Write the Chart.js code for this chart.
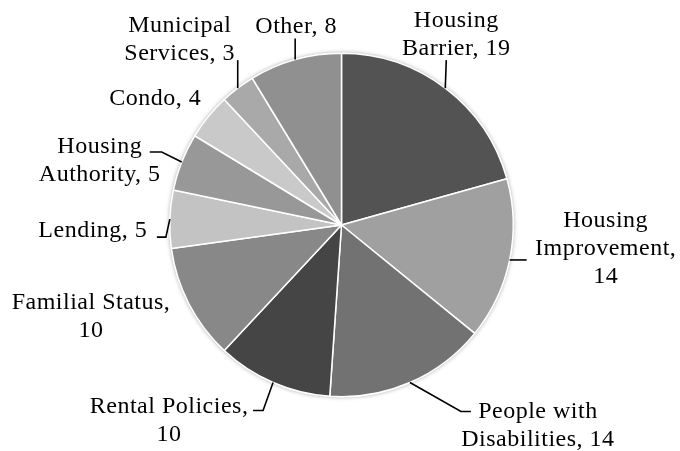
<!DOCTYPE html>
<html>
<head>
<meta charset="utf-8">
<script src="https://cdn.jsdelivr.net/npm/chart.js@4/dist/chart.umd.min.js"></script>
<style>
  html, body { margin: 0; padding: 0; background: #fff; }
  #wrap { width: 680px; height: 451px; position: relative; }
</style>
</head>
<body>
<div id="wrap"><canvas id="pieChart"></canvas></div>
<script>
'use strict';

// Kategorien und Werte (im Uhrzeigersinn ab 12 Uhr)
const categories = [
  ['Housing', 'Barrier, 19'],
  ['Housing', 'Improvement,', '14'],
  ['People with', 'Disabilities, 14'],
  ['Rental Policies,', '10'],
  ['Familial Status,', '10'],
  ['Lending, 5'],
  ['Housing', 'Authority, 5'],
  ['Condo, 4'],
  ['Municipal', 'Services, 3'],
  ['Other, 8']
];
const values = [19, 14, 14, 10, 10, 5, 5, 4, 3, 8];
const sliceColors = [
  '#535353', '#a0a0a0', '#727272', '#454545', '#888888',
  '#c3c3c3', '#989898', '#c9c9c9', '#a9a9a9', '#909090'
];

// Label-Layout relativ zum Mittelpunkt des Bogens (dx/dy = Textmitte / erste Grundlinie)
const labelLayout = [
  { dx: 11, dy: -61, leader: [[1, -28]] },
  { dx: 96, dy: -33, leader: [[17, 0]] },
  { dx: 128, dy: 35, leader: [[51, 29], [61, 29]] },
  { dx: -104, dy: 30, leader: [[-10, 28], [-20, 28]] },
  { dx: -98, dy: 5, leader: [] },
  { dx: -77, dy: 18, leader: [[-4, 18], [-13, 18]] },
  { dx: -82, dy: -9, leader: [[-20, -10], [-32, -10]] },
  { dx: -53, dy: -12, leader: [] },
  { dx: -58, dy: -56, leader: [[0, -28]] },
  { dx: 1, dy: -27, leader: [[0, -21]] }
];

const lineHeight = 28;

// Schatten hinter dem Kreis
const shadowPlugin = {
  id: 'pieShadow',
  beforeDatasetsDraw(chart) {
    const arc = chart.getDatasetMeta(0).data[0];
    if (!arc) return;
    const ctx = chart.ctx;
    ctx.save();
    ctx.shadowColor = 'rgba(0,0,0,0.35)';
    ctx.shadowBlur = 4;
    ctx.fillStyle = '#ffffff';
    ctx.beginPath();
    ctx.arc(arc.x, arc.y, arc.outerRadius + 0.5, 0, Math.PI * 2);
    ctx.fill();
    ctx.restore();
  }
};

// Beschriftungen mit Führungslinien
const labelPlugin = {
  id: 'pieLabels',
  afterDatasetsDraw(chart) {
    const ctx = chart.ctx;
    const meta = chart.getDatasetMeta(0);
    ctx.save();
    ctx.font = '24px "Liberation Serif", "Times New Roman", serif';
    ctx.letterSpacing = '0.5px';
    ctx.fillStyle = '#000';
    ctx.strokeStyle = '#000';
    ctx.lineWidth = 1.6;
    ctx.textAlign = 'center';
    ctx.textBaseline = 'alphabetic';
    meta.data.forEach((arc, i) => {
      const mid = (arc.startAngle + arc.endAngle) / 2;
      const ax = arc.x + Math.cos(mid) * arc.outerRadius;
      const ay = arc.y + Math.sin(mid) * arc.outerRadius;
      const layout = labelLayout[i];
      if (layout.leader.length) {
        ctx.beginPath();
        ctx.moveTo(ax, ay);
        layout.leader.forEach(p => ctx.lineTo(ax + p[0], ay + p[1]));
        ctx.stroke();
      }
      categories[i].forEach((line, j) => {
        ctx.fillText(line, ax + layout.dx, ay + layout.dy + j * lineHeight);
      });
    });
    ctx.restore();
  }
};

new Chart(document.getElementById('pieChart'), {
  type: 'pie',
  data: {
    labels: categories.map(c => c.join(' ')),
    datasets: [{
      data: values,
      backgroundColor: sliceColors,
      borderColor: '#ffffff',
      borderWidth: 1.5
    }]
  },
  options: {
    responsive: true,
    maintainAspectRatio: false,
    animation: false,
    layout: { padding: { left: 169, right: 166, top: 52, bottom: 53 } },
    plugins: {
      legend: { display: false },
      tooltip: { enabled: false }
    }
  },
  plugins: [shadowPlugin, labelPlugin]
});
</script>
</body>
</html>
